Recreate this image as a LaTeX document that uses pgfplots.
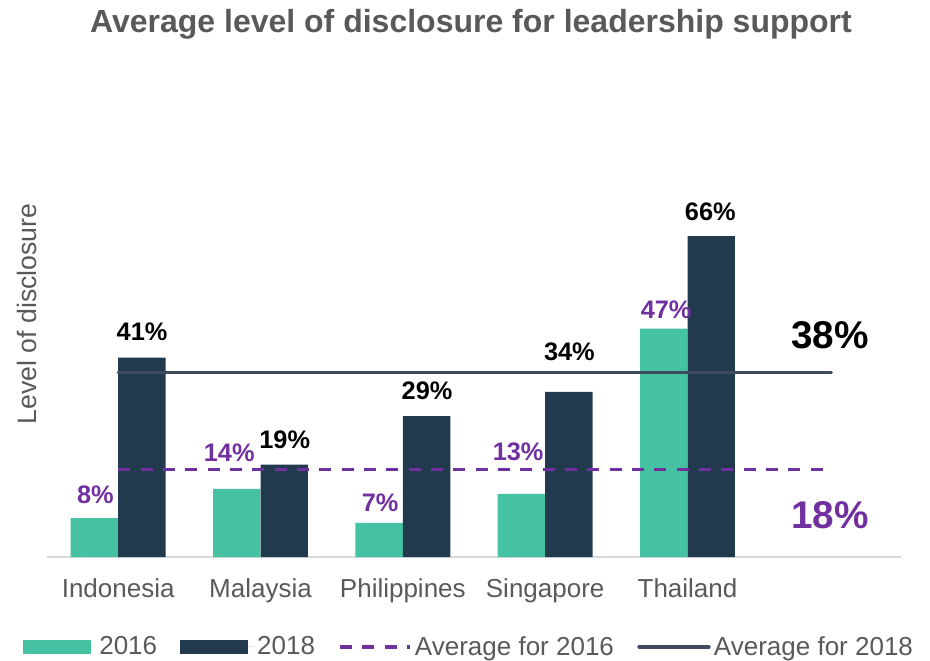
\documentclass[border=0pt]{standalone}
\usepackage{fontspec}
\setmainfont{Liberation Sans}
\usepackage{pgfplots}
\pgfplotsset{compat=1.18}
\definecolor{cteal}{HTML}{45C2A2}
\definecolor{cnavy}{HTML}{223A4E}
\definecolor{cgray}{HTML}{595959}
\definecolor{cpurple}{HTML}{7030A0}
\definecolor{cline}{HTML}{3E4A5D}
\definecolor{cbase}{HTML}{D9D9D9}
\tikzset{
  lab16/.style={font=\bfseries\fontsize{19}{22}\selectfont, text=cpurple, inner sep=0pt},
  lab18/.style={font=\bfseries\fontsize{19}{22}\selectfont, text=black, inner sep=0pt},
}
\begin{document}
\begin{tikzpicture}
\begin{axis}[
  scale only axis, width=640.5pt, height=364.5pt,
  xmin=-0.5, xmax=5.5, ymin=0, ymax=100,
  axis x line*=bottom, axis y line*=left,
  x axis line style={-, draw=cbase, line width=1.5pt},
  y axis line style={draw=none},
  xtick={0,1,2,3,4},
  xticklabels={Indonesia,Malaysia,Philippines,Singapore,Thailand},
  major tick length=0pt, ytick=\empty,
  xticklabel style={font=\fontsize{19.5}{23}\selectfont, text=cgray, anchor=base, yshift=-30pt},
  ylabel={Level of disclosure},
  every axis y label/.style={at={(axis description cs:-0.0125,0.5)}, rotate=90, anchor=base, font=\fontsize{20}{24}\selectfont, text=cgray},
  title={Average level of disclosure for leadership support},
  every axis title/.style={at={(axis description cs:0.4965,1.0802)}, anchor=base, font=\bfseries\fontsize{24}{28}\selectfont, text=cgray},
  legend columns=4,
  legend style={at={(axis description cs:0.4947,-0.185)}, anchor=center, draw=none, fill=none,
    font=\fontsize{19.5}{23}\selectfont, text=cgray, inner sep=0pt,
    /tikz/every even column/.append style={column sep=15pt}, nodes={inner sep=2.5pt}},
  legend cell align=left,
  clip=false,
]
\addplot[ybar, bar width=0.3333, bar shift=-0.16667, fill=cteal, draw=none,
  legend image code/.code={\fill[cteal] (0pt,-5.25pt) rectangle (51pt,5.25pt);\path (0pt,0pt) -- (55pt,0pt);}]
  coordinates {(0,8) (1,14) (2,7) (3,13) (4,47)};
\addlegendentry{2016}
\addplot[ybar, bar width=0.3333, bar shift=0.16667, fill=cnavy, draw=none,
  legend image code/.code={\fill[cnavy] (0pt,-5.25pt) rectangle (51pt,5.25pt);\path (0pt,0pt) -- (55pt,0pt);}]
  coordinates {(0,41) (1,19) (2,29) (3,34) (4,66)};
\addlegendentry{2018}
\addplot[sharp plot, cpurple, line width=2.5pt, dash pattern=on 9pt off 7.75pt,
  legend image code/.code={\draw[cpurple, line width=2.5pt, dash pattern=on 9pt off 7.75pt] (0pt,0pt) -- (52.5pt,0pt);}]
  coordinates {(0,18) (4.95,18)};
\addlegendentry{Average for 2016}
\addplot[sharp plot, cline, line width=2.5pt, line cap=round,
  legend image code/.code={\draw[cline, line width=2.5pt, line cap=round] (0pt,0pt) -- (52.5pt,0pt);}]
  coordinates {(0,38) (5.01,38)};
\addlegendentry{Average for 2018}

\node[lab16] at (axis cs:-0.16,12.8) {8\%};
\node[lab16] at (axis cs:0.78,21.4) {14\%};
\node[lab16] at (axis cs:1.84,11.1) {7\%};
\node[lab16] at (axis cs:2.81,21.6) {13\%};
\node[lab16] at (axis cs:3.85,50.8) {47\%};
\node[lab18] at (axis cs:0.168,46.3) {41\%};
\node[lab18] at (axis cs:1.17,24.1) {19\%};
\node[lab18] at (axis cs:2.17,34.2) {29\%};
\node[lab18] at (axis cs:3.17,42.2) {34\%};
\node[lab18] at (axis cs:4.16,71.0) {66\%};
\node[font=\bfseries\fontsize{29}{34}\selectfont, text=black] at (axis cs:5.0,45.7) {38\%};
\node[font=\bfseries\fontsize{29}{34}\selectfont, text=cpurple] at (axis cs:5.0,8.6) {18\%};
\end{axis}
\pgfresetboundingbox
\path (-35.25pt,-77.25pt) rectangle (662.25pt,417.75pt);
\end{tikzpicture}
\end{document}
